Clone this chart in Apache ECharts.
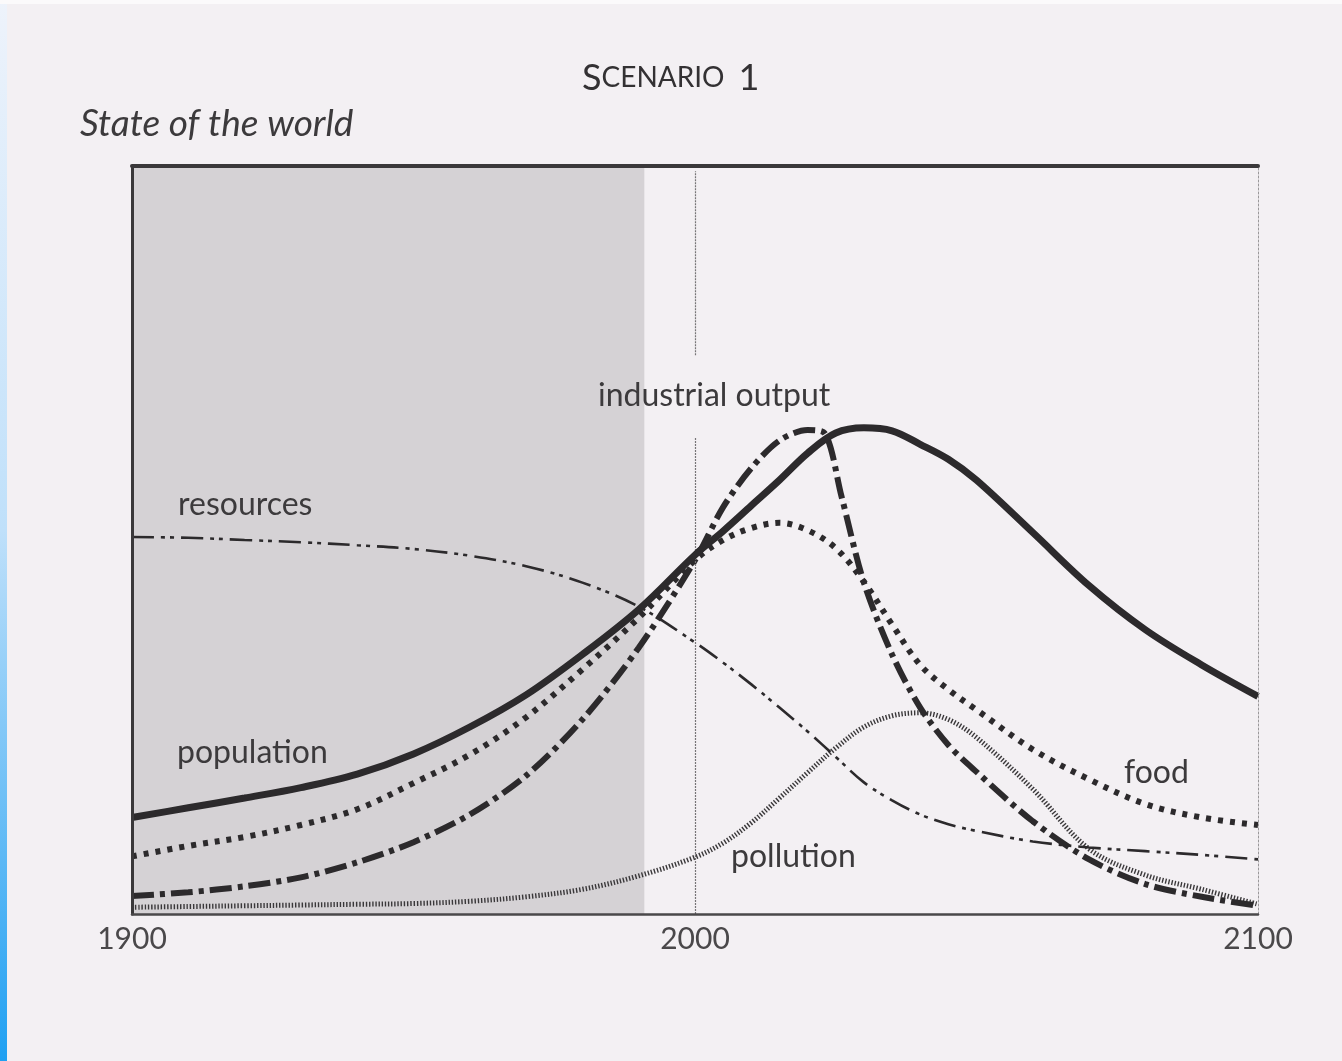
<!DOCTYPE html>
<html>
<head>
<meta charset="utf-8">
<script src="https://cdn.jsdelivr.net/npm/echarts@6/dist/echarts.min.js"></script>
<style>
  html, body { margin: 0; padding: 0; background: #f3f0f3; }
  #chart { width: 1342px; height: 1061px; }
</style>
</head>
<body>
<div id="chart"></div>
<script>
// ---- data ----
var years = [1900,1910,1920,1930,1940,1950,1960,1970,1980,1990,2000,2005,2010,2015,2020,2025,2030,2035,2040,2045,2050,2060,2070,2080,2090,2100];
var population = [12.9,14.2,15.5,16.9,18.7,21.4,25,29.3,34.7,40.7,48,51.2,54.6,58,61.6,64.3,65,64.6,62.8,60.8,58,51,43.9,38,33.3,29.1];
var food = [7.7,9.1,10.3,11.9,14,17.5,21.3,26.3,32.7,39.6,47.3,50,51.6,52.3,51.3,48.9,44.4,38.7,33.3,30,27.3,22,18,14.7,12.9,11.9];
var resources = [50.4,50.3,50,49.7,49.3,48.8,47.9,46.5,44.3,41.1,36.3,33.6,30.7,27.6,24.4,21,17.6,15.2,13.3,12,11.1,9.7,8.9,8.4,7.9,7.3];
var pollution = [0.9,1.0,1.1,1.2,1.3,1.4,1.7,2.3,3.3,5.1,7.6,9.5,12.2,15.5,18.9,22.2,25,26.5,26.9,26,23.6,16.7,8.7,5.2,3.3,1.3];
var industryYears = [1900,1910,1920,1930,1940,1950,1960,1970,1980,1990,2000,2005,2010,2015,2020,2023,2026,2030,2035,2040,2045,2050,2060,2070,2080,2090,2100];
var industry = [2.4,2.9,3.7,4.9,6.9,9.6,13.3,18.5,26,35.6,47.3,54.4,59.6,63.3,64.7,64.3,55.9,44.3,34.7,27.6,22.6,19.0,12.4,7.3,4,2.3,1.1];
var axisTicks = [1900, 2000, 2100];
var shadedSpan = [1900, 1991];
var markerYear = 2000;
var yAxisTitle = 'State of the world';
var seriesLabels = ['population', 'food', 'industrial output', 'resources', 'pollution'];

function pairs(xs, ys) { return xs.map(function (x, i) { return [x, ys[i]]; }); }

var chart = echarts.init(document.getElementById('chart'), null, { renderer: 'canvas' });
var ink = '#2c2a2c';
var txt = '#3c3a3c';
var fam = 'Lato, "Open Sans", sans-serif';

var option = {
  backgroundColor: '#f3f0f3',
  animation: false,
  grid: { left: 132, right: 84, top: 166, bottom: 147 },
  xAxis: [
    {
      type: 'value', min: 1900, max: 2100, interval: 100, position: 'bottom', z: 10,
      axisLine: { show: true, onZero: false, lineStyle: { color: '#4a484a', width: 2.5 } },
      axisTick: { show: false },
      splitLine: { show: false },
      axisLabel: {
        fontSize: 30, color: '#4a484a', fontFamily: fam, margin: 10,
        formatter: function (v) { return axisTicks.indexOf(v) >= 0 ? String(v) : ''; }
      }
    },
    {
      type: 'value', min: 1900, max: 2100, position: 'top', z: 10,
      axisLine: { show: true, onZero: false, lineStyle: { color: '#3a383a', width: 4 } },
      axisTick: { show: false }, axisLabel: { show: false }, splitLine: { show: false }
    }
  ],
  yAxis: [
    {
      type: 'value', min: 0, max: 100, position: 'left', z: 10,
      axisLine: { show: true, onZero: false, lineStyle: { color: '#3a383a', width: 3 } },
      axisTick: { show: false }, axisLabel: { show: false }, splitLine: { show: false }
    },
    {
      type: 'value', min: 0, max: 100, position: 'right', z: 10,
      axisLine: { show: true, onZero: false, lineStyle: { color: '#9a989a', width: 1, type: [2, 2] } },
      axisTick: { show: false }, axisLabel: { show: false }, splitLine: { show: false }
    }
  ],
  series: [
    {
      type: 'line', data: [], z: 1, silent: true,
      markArea: {
        silent: true,
        itemStyle: { color: '#d5d2d5' },
        data: [[{ xAxis: shadedSpan[0] }, { xAxis: shadedSpan[1] }]]
      },
      markLine: {
        silent: true, symbol: 'none', label: { show: false },
        lineStyle: { color: '#777577', width: 1.2, type: [2, 1] },
        data: [
          [{ coord: [markerYear, 0] }, { coord: [markerYear, 63.7] }],
          [{ coord: [markerYear, 74.7] }, { coord: [markerYear, 99.3] }]
        ]
      }
    },
    {
      name: seriesLabels[4], type: 'line', z: 3, showSymbol: false, smooth: 0.35,
      data: pairs(years, pollution),
      lineStyle: { color: '#3a383a', width: 5, type: [1.4, 1.8], cap: 'butt' }
    },
    {
      name: seriesLabels[3], type: 'line', z: 3, showSymbol: false, smooth: 0.35,
      data: pairs(years, resources),
      lineStyle: { color: ink, width: 2.6, type: [22, 7, 4, 5, 4, 7], cap: 'butt' }
    },
    {
      name: seriesLabels[1], type: 'line', z: 4, showSymbol: false, smooth: 0.35,
      data: pairs(years, food),
      lineStyle: { color: ink, width: 6, type: [5, 7], cap: 'butt' }
    },
    {
      name: seriesLabels[2], type: 'line', z: 4, showSymbol: false, smooth: 0.3,
      data: pairs(industryYears, industry),
      lineStyle: { color: ink, width: 6, type: [22, 6, 5, 6], cap: 'butt' }
    },
    {
      name: seriesLabels[0], type: 'line', z: 5, showSymbol: false, smooth: 0.35,
      data: pairs(years, population),
      lineStyle: { color: ink, width: 7 }
    }
  ],
  graphic: [
    {
      type: 'rect', left: 0, top: 0, z: 100, silent: true,
      shape: { width: 7, height: 1061 },
      style: { fill: new echarts.graphic.LinearGradient(0, 0, 0, 1, [
        { offset: 0, color: '#eef3fb' }, { offset: 0.5, color: '#bfe0fa' }, { offset: 1, color: '#1fa0f2' }
      ]) }
    },
    {
      type: 'rect', left: 0, top: 0, z: 100, silent: true,
      shape: { width: 1342, height: 4 }, style: { fill: '#fbfafb' }
    },
    {
      type: 'text', left: 582, top: 60, z: 50,
      style: {
        text: '{a|S}{b|CENARIO}{s| }{a|1}',
        rich: {
          a: { fontSize: 36, fontFamily: fam, fill: '#333133', color: '#333133' },
          b: { fontSize: 28, fontFamily: fam, fill: '#333133', color: '#333133' },
          s: { fontSize: 36, fontFamily: fam, width: 14 }
        }
      }
    },
    {
      type: 'text', left: 80, top: 106, z: 50,
      style: { text: yAxisTitle, font: 'italic 37px ' + fam, fill: '#3c3a3c' }
    },
    { type: 'text', left: 178, top: 489, z: 50, style: { text: seriesLabels[3], font: '32px ' + fam, fill: txt } },
    { type: 'text', left: 177, top: 737, z: 50, style: { text: seriesLabels[0], font: '32px ' + fam, fill: txt } },
    { type: 'text', left: 598, top: 380, z: 50, style: { text: seriesLabels[2], font: '32px ' + fam, fill: txt } },
    { type: 'text', left: 1124, top: 757, z: 50, style: { text: seriesLabels[1], font: '32px ' + fam, fill: txt } },
    { type: 'text', left: 731, top: 841, z: 50, style: { text: seriesLabels[4], font: '32px ' + fam, fill: txt } }
  ]
};
chart.setOption(option);
</script>
</body>
</html>
